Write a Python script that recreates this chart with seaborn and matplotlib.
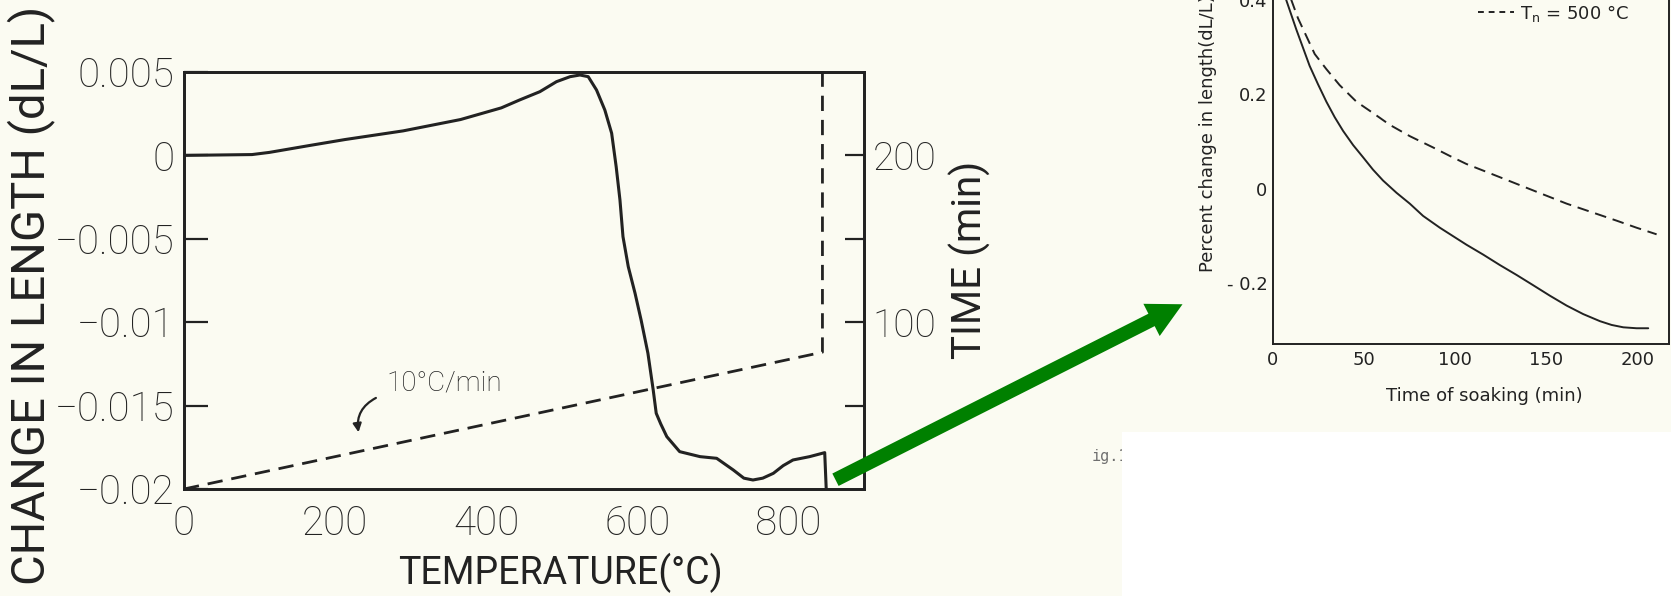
import matplotlib
matplotlib.use("Agg")
import matplotlib.pyplot as plt
from matplotlib.patches import Rectangle, FancyArrowPatch
from matplotlib.lines import Line2D
from matplotlib.transforms import IdentityTransform
import seaborn as sns

# ---------------- data ----------------
# Left chart: dilatometer curve (temperature in degC vs dL/L)
temp_c = [0, 90, 113, 167, 213, 290, 366, 420, 444, 471, 493, 511, 524, 535,
          546, 557, 566, 572, 577, 581, 588, 597, 605, 614, 621, 625, 631,
          639, 656, 683, 705, 727, 741, 753, 766, 780, 793, 806, 828, 848,
          850]
dl_l = [0.0, 0.00005, 0.00018, 0.0006, 0.00095, 0.00147, 0.00215, 0.00285,
        0.00332, 0.00382, 0.00442, 0.00472, 0.00482, 0.00472, 0.00392,
        0.00272, 0.00133, -0.00068, -0.00267, -0.00487, -0.00667, -0.00827,
        -0.00987, -0.01186, -0.01406, -0.01546, -0.0161, -0.01686, -0.01776,
        -0.01806, -0.01816, -0.01886, -0.01935, -0.01946, -0.01935, -0.01906,
        -0.01860, -0.01826, -0.01806, -0.01782, -0.0200]
# Heating program (temperature vs time, 10 degC/min then hold)
prog_temp = [0, 845, 845]
prog_time = [0, 82, 250]

# Right chart: soaking curves (time of soaking vs percent change in length)
soak_t_solid = [5.5, 7.3, 12.8, 20.1, 24.7, 29.3, 33.9, 38.5, 44.0, 49.5, 54.9,
                60.4, 67.8, 75.1, 82.4, 91.6, 98.9, 106.2, 115.4, 124.5, 133.7,
                142.9, 152.0, 161.2, 170.3, 179.5, 185.9, 192.3, 199.6, 206.0]
soak_y_solid = [0.43, 0.399, 0.337, 0.260, 0.221, 0.184, 0.151, 0.122, 0.092,
                0.066, 0.040, 0.017, -0.009, -0.032, -0.058, -0.083, -0.101,
                -0.119, -0.140, -0.162, -0.183, -0.205, -0.227, -0.248, -0.266,
                -0.281, -0.289, -0.294, -0.296, -0.296]
soak_t_dash = [8.0, 10.1, 13.7, 18.3, 22.9, 29.3, 36.6, 45.8, 54.9, 64.1, 75.1,
               87.9, 97.1, 106.2, 120.0, 133.7, 147.4, 161.2, 174.9, 188.6,
               199.6, 210.6]
soak_y_dash = [0.43, 0.399, 0.361, 0.323, 0.285, 0.253, 0.219, 0.184, 0.160,
               0.135, 0.111, 0.087, 0.069, 0.052, 0.031, 0.010, -0.011, -0.032,
               -0.050, -0.068, -0.083, -0.097]

left_yticks = [0.005, 0.0, -0.005, -0.01, -0.015, -0.02]
left_yticklabels = ["0.005", "0", "\u22120.005", "\u22120.01", "\u22120.015", "\u22120.02"]
left_xticks = [0, 200, 400, 600, 800]
time_ticks = [50, 100, 150, 200]
time_ticklabels = ["", "100", "", "200"]
right_xticks = [0, 50, 100, 150, 200]
right_yticks = [-0.2, 0.0, 0.2, 0.4]
right_yticklabels = ["- 0.2", "0", "0.2", "0.4"]

# ---------------- style ----------------
sns.set_style("white")
BG = "#fbfbf2"
INK = "#222222"
plt.rcParams["font.family"] = ["Roboto", "Liberation Sans", "DejaVu Sans"]
plt.rcParams["axes.edgecolor"] = INK
plt.rcParams["text.color"] = INK
LW = "light"   # thin lettering for the left chart numbers
RF = ["DejaVu Sans"]  # font of the right chart

W, H = 1671, 596
fig = plt.figure(figsize=(W / 100, H / 100), dpi=100, facecolor=BG)


def fx(px):
    return px / W


def fy(py):
    return 1 - py / H


# white block (scan background) lower right
fig.patches.append(Rectangle((fx(1122), 0), 1 - fx(1122), fy(432),
                             transform=fig.transFigure, facecolor="white",
                             edgecolor="none", zorder=4))

# ---------------- left chart ----------------
ax = fig.add_axes([fx(184), fy(489), fx(864) - fx(184), fy(72) - fy(489)])
ax.set_facecolor("none")
sns.lineplot(x=temp_c, y=dl_l, ax=ax, color=INK, lw=2.2, sort=False,
             estimator=None)
ax.set_xlim(0, 900)
ax.set_ylim(-0.02, 0.005)
ax.set_xticks(left_xticks)
ax.set_xticklabels([str(v) for v in left_xticks], fontweight=LW)
ax.set_yticks(left_yticks)
ax.set_yticklabels(left_yticklabels, fontweight=LW)
ax.tick_params(axis="both", direction="in", length=17, width=1.6, colors=INK,
               labelsize=29)
ax.tick_params(axis="y", pad=7)
ax.tick_params(axis="x", pad=11)
for s in ax.spines.values():
    s.set_linewidth(2.0)
    s.set_color(INK)

ax2 = ax.twinx()
ax2.set_facecolor("none")
sns.lineplot(x=prog_temp, y=prog_time, ax=ax2, color=INK, lw=2.0, sort=False,
             estimator=None, linestyle=(0, (5.5, 3.2)))
ax2.set_ylim(0, 250)
ax2.set_yticks(time_ticks)
ax2.set_yticklabels(time_ticklabels, fontweight=LW)
ax2.tick_params(axis="y", direction="in", length=14, width=1.6, colors=INK,
                labelsize=28, pad=6)
for s in ax2.spines.values():
    s.set_linewidth(2.0)
    s.set_color(INK)
ax2.set_ylabel("TIME (min)", fontsize=29, color=INK)
ax2.yaxis.set_label_coords(fx(949), fy(260), transform=fig.transFigure)

ax.set_xlabel("TEMPERATURE(\u00b0C)", fontsize=27, color=INK)
ax.xaxis.set_label_coords(fx(560), fy(553), transform=fig.transFigure)
ax.set_ylabel("CHANGE IN LENGTH (dL/L)", fontsize=34, color=INK)
ax.yaxis.set_label_coords(fx(55), fy(295), transform=fig.transFigure)

ax.text(344, -0.01364, "10\u00b0C/min", fontsize=20, ha="center", va="center",
        color=INK, fontweight=LW)
ax.annotate("", xy=(231, -0.0166), xytext=(254, -0.01454),
            arrowprops=dict(arrowstyle="-|>,head_length=0.5,head_width=0.25",
                            connectionstyle="arc3,rad=0.35", color=INK,
                            lw=1.6, shrinkA=0, shrinkB=0))

# ---------------- right chart ----------------
y0, y1 = -0.33, 0.55
ppu = 472.0
bottom_px = 344.3
axr = fig.add_axes([fx(1273), fy(bottom_px), fx(1669) - fx(1273),
                    (y1 - y0) * ppu / H])
axr.set_facecolor("none")
sns.lineplot(x=soak_t_solid, y=soak_y_solid, ax=axr, color=INK, lw=1.4,
             sort=False, estimator=None)
sns.lineplot(x=soak_t_dash, y=soak_y_dash, ax=axr, color=INK, lw=1.4,
             sort=False, estimator=None, linestyle=(0, (6, 3.5)))
axr.set_xlim(0, 217.4)
axr.set_ylim(y0, y1)
axr.set_xticks(right_xticks)
axr.set_xticklabels([str(v) for v in right_xticks], family=RF)
axr.set_yticks(right_yticks)
axr.set_yticklabels(right_yticklabels, family=RF)
axr.tick_params(axis="both", direction="in", length=9, width=1.2, colors=INK,
                labelsize=13)
axr.tick_params(axis="x", pad=5)
axr.tick_params(axis="y", pad=4)
for s in axr.spines.values():
    s.set_linewidth(1.4)
    s.set_color(INK)
axr.set_xlabel("Time of soaking (min)", fontsize=13, color=INK, family=RF)
axr.xaxis.set_label_coords(fx(1484), fy(387), transform=fig.transFigure)
axr.set_ylabel("Percent change in length(dL/L)", fontsize=13, color=INK,
               family=RF)
axr.yaxis.set_label_coords(fx(1217), fy(134), transform=fig.transFigure)

handle = Line2D([], [], color=INK, lw=1.4, linestyle=(0, (3, 2.5)))
leg = axr.legend([handle], ["T$_\\mathrm{n}$ = 500 \u00b0C"], loc="center left",
                 bbox_to_anchor=(fx(1478), fy(13)),
                 bbox_transform=fig.transFigure, frameon=False,
                 handlelength=2.0, handletextpad=0.3, borderpad=0,
                 borderaxespad=0,
                 prop={"family": "DejaVu Sans", "size": 13})

# ---------------- decorations ----------------
fig.text(fx(1092), fy(456), "ig.1", fontsize=11, color="#6f6f6f",
         family="DejaVu Sans Mono", va="center", ha="left", zorder=3)

arrow = FancyArrowPatch((833, H - 481), (1185, H - 303),
                        arrowstyle="simple,head_width=26,head_length=25,tail_width=10",
                        mutation_scale=1, color="#008000", lw=0, zorder=5)
arrow.set_transform(IdentityTransform())
fig.patches.append(arrow)

fig.savefig("out.png", dpi=100, facecolor=BG)
